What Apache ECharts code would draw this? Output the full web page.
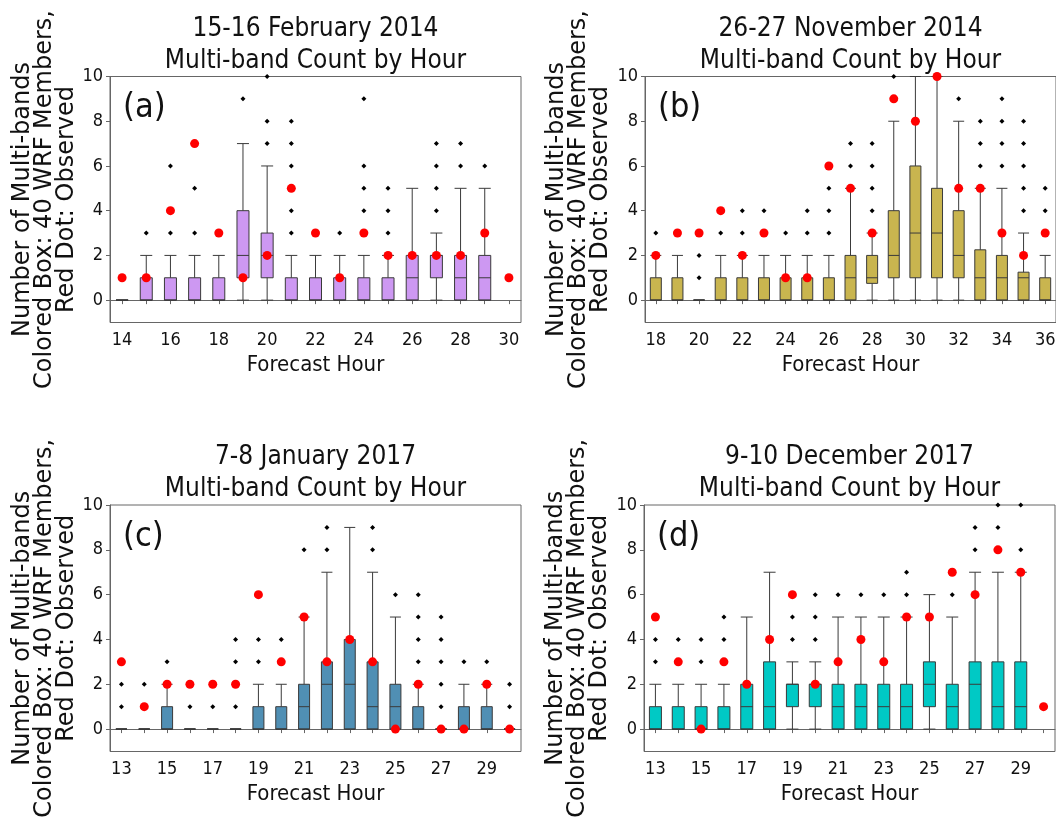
<!DOCTYPE html>
<html><head><meta charset="utf-8">
<script src="https://cdn.jsdelivr.net/npm/echarts@6/dist/echarts.min.js"></script>
<style>html,body{margin:0;padding:0;background:#fff}#c{width:1056px;height:820px}</style>
</head><body><div id="c"></div>
<script>
// ---------- data ----------
const yTicks = [0, 2, 4, 6, 8, 10];
const yAxisName = 'Number of Multi-bands\nColored Box: 40 WRF Members,\nRed Dot: Observed';
const xAxisName = 'Forecast Hour';
const titleLine2 = 'Multi-band Count by Hour';
const panelTitles = ['15-16 February 2014', '26-27 November 2014', '7-8 January 2017', '9-10 December 2017'];
const panelLetters = ['(a)', '(b)', '(c)', '(d)'];

// (a) 15-16 February 2014
const hoursA = ['14','15','16','17','18','19','20','21','22','23','24','25','26','27','28','29','30'];
const boxesA = [
  [0,0,0,0,0],[0,0,0,1,2],[0,0,0,1,2],[0,0,0,1,2],[0,0,0,1,2],[0,1,2,4,7],[0,1,2,3,6],
  [0,0,0,1,2],[0,0,0,1,2],[0,0,0,1,2],[0,0,0,1,2],[0,0,0,1,2],[0,0,1,2,5],[0,1,2,2,3],
  [0,0,1,2,5],[0,0,1,2,5]
];
const outliersA = [[],[3],[3,6],[3,5],[3],[9],[7,8,10],[3,4,6,7,8],[],[3],[4,5,6,9],[3,4,5],[],[4,5,6,7],[6,7],[6],[]];
const observedA = [1,1,4,7,3,1,2,5,3,1,3,2,2,2,2,3,1];

// (b) 26-27 November 2014
const hoursB = ['18','19','20','21','22','23','24','25','26','27','28','29','30','31','32','33','34','35','36'];
const boxesB = [
  [0,0,0,1,2],[0,0,0,1,2],[0,0,0,0,0],[0,0,0,1,2],[0,0,0,1,2],[0,0,0,1,2],[0,0,0,1,2],
  [0,0,0,1,2],[0,0,0,1,2],[0,0,1,2,5],[0,0.75,1,2,3],[0,1,2,4,8],[0,1,3,6,10],[0,1,3,5,10],
  [0,1,2,4,8],[0,0,1,2.25,5],[0,0,1,2,5],[0,0,1,1.25,3],[0,0,0,1,2]
];
const outliersB = [[3],[],[1,2],[3],[3,4],[4],[3],[3,4],[3,4,5],[6,7],[4,5,6,7],[10],[],[],[9],[6,7,8],[6,7,8,9],[4,5,6,7,8],[3,4,5]];
const observedB = [2,3,3,4,2,3,1,1,6,5,3,9,8,10,5,5,3,2,3];

// (c) 7-8 January 2017
const hoursC = ['13','14','15','16','17','18','19','20','21','22','23','24','25','26','27','28','29','30'];
const boxesC = [
  [0,0,0,0,0],[0,0,0,0,0],[0,0,0,1,2],[0,0,0,0,0],[0,0,0,0,0],[0,0,0,0,0],[0,0,0,1,2],
  [0,0,0,1,2],[0,0,1,2,5],[0,0,2,3,7],[0,0,2,4,9],[0,0,1,3,7],[0,0,1,2,5],[0,0,0,1,2],
  [0,0,0,0,0],[0,0,0,1,2],[0,0,0,1,2],[0,0,0,0,0]
];
const outliersC = [[1,2],[2],[3],[1],[1],[1,3,4],[3,4],[4],[8],[8,9],[],[8,9],[6],[3,4,5,6],[1,2,3,4,5],[3],[3],[1,2]];
const observedC = [3,1,2,2,2,2,6,3,5,3,4,3,0,2,0,0,2,0];

// (d) 9-10 December 2017
const hoursD = ['13','14','15','16','17','18','19','20','21','22','23','24','25','26','27','28','29','30'];
const boxesD = [
  [0,0,0,1,2],[0,0,0,1,2],[0,0,0,1,2],[0,0,0,1,2],[0,0,1,2,5],[0,0,1,3,7],[0,1,2,2,3],
  [0,1,2,2,3],[0,0,1,2,5],[0,0,1,2,5],[0,0,1,2,5],[0,0,1,2,5],[0,1,2,3,6],[0,0,1,2,5],
  [0,0,2,3,7],[0,0,1,3,7],[0,0,1,3,7]
];
const outliersD = [[3,4],[4],[3,4],[4,5],[],[],[4,5],[4,5,6],[6],[6],[6],[6,7],[],[6],[8,9],[9,10],[8,10],[]];
const observedD = [5,3,0,3,2,4,6,2,3,4,3,5,5,7,6,8,7,1];

// ---------- layout / style ----------
const COND = '"DejaVu Sans Condensed", "DejaVu Sans", sans-serif';
const REG = '"DejaVu Sans", sans-serif';
const panels = [
  {hours: hoursA, boxes: boxesA, outl: outliersA, obs: observedA, color: '#cd98f2', left: 110, top: 76.5, w: 411, h: 246, bw: 12, nameGap: 28},
  {hours: hoursB, boxes: boxesB, outl: outliersB, obs: observedB, color: '#c9b54f', left: 645, top: 76.5, w: 411, h: 246, bw: 11, nameGap: 33},
  {hours: hoursC, boxes: boxesC, outl: outliersC, obs: observedC, color: '#508fb4', left: 110, top: 505, w: 411, h: 246.5, bw: 11, nameGap: 28},
  {hours: hoursD, boxes: boxesD, outl: outliersD, obs: observedD, color: '#00c9c5', left: 644, top: 505, w: 411, h: 246.5, bw: 12, nameGap: 33}
];

const grid = [], xAxis = [], yAxis = [], series = [], title = [], graphic = [];
panels.forEach((p, i) => {
  grid.push({left: p.left, top: p.top, width: p.w, height: p.h, show: true, borderColor: '#666', borderWidth: 1, backgroundColor: '#fff', outerBoundsMode: 'none', containLabel: false});
  xAxis.push({
    type: 'category', gridIndex: i, data: p.hours, boundaryGap: true,
    name: xAxisName, nameLocation: 'middle', nameGap: 32,
    nameTextStyle: {fontFamily: COND, fontSize: 22, lineHeight: 22, color: '#111'},
    axisLine: {show: true, lineStyle: {color: '#666', width: 1}},
    axisTick: {show: true, interval: 0, alignWithLabel: true, length: 4, lineStyle: {color: '#666'}},
    axisLabel: {interval: 1, margin: 9, fontFamily: COND, fontSize: 18, color: '#111'},
    splitLine: {show: false}
  });
  yAxis.push({
    type: 'value', gridIndex: i, min: -1, max: 10,
    name: yAxisName, nameLocation: 'middle', nameGap: p.nameGap, nameRotate: 90,
    nameTextStyle: {fontFamily: REG, fontSize: 24, lineHeight: 22, color: '#111', align: 'center'},
    axisLine: {show: true, lineStyle: {color: '#666', width: 1}},
    axisTick: {show: true, length: 4, customValues: yTicks, lineStyle: {color: '#666'}},
    axisLabel: {customValues: yTicks, margin: 7, fontFamily: COND, fontSize: 18, color: '#111'},
    splitLine: {show: false}
  });
  series.push({
    type: 'boxplot', xAxisIndex: i, yAxisIndex: i, data: p.boxes, boxWidth: [p.bw, p.bw],
    itemStyle: {color: p.color, borderColor: '#3a3a3a', borderWidth: 1},
    emphasis: {disabled: true}, z: 2
  });
  const pts = [];
  p.outl.forEach((arr, k) => arr.forEach(v => pts.push([p.hours[k], v])));
  series.push({
    type: 'scatter', xAxisIndex: i, yAxisIndex: i, data: pts, symbol: 'diamond', symbolSize: 5,
    itemStyle: {color: '#000', opacity: 1}, z: 3, silent: true
  });
  series.push({
    type: 'scatter', xAxisIndex: i, yAxisIndex: i, data: p.obs.map((v, k) => [p.hours[k], v]),
    symbol: 'circle', symbolSize: 9, itemStyle: {color: '#ff0000', opacity: 1}, z: 4, silent: true
  });
  title.push({
    text: panelTitles[i] + '\n' + titleLine2, left: p.left + p.w / 2, top: p.top - 63.5, padding: 0,
    textAlign: 'center',
    textStyle: {fontFamily: COND, fontSize: 26, lineHeight: 32, fontWeight: 'normal', color: '#111'}
  });
  graphic.push({
    type: 'text', x: p.left + 13, y: p.top + 32, z: 10,
    style: {text: panelLetters[i], fontFamily: COND, fontSize: 34, fill: '#111', verticalAlign: 'middle', align: 'left'}
  });
});

const chart = echarts.init(document.getElementById('c'), null, {renderer: 'canvas'});
chart.setOption({animation: false, backgroundColor: '#fff', grid, xAxis, yAxis, series, title, graphic});
</script></body></html>
